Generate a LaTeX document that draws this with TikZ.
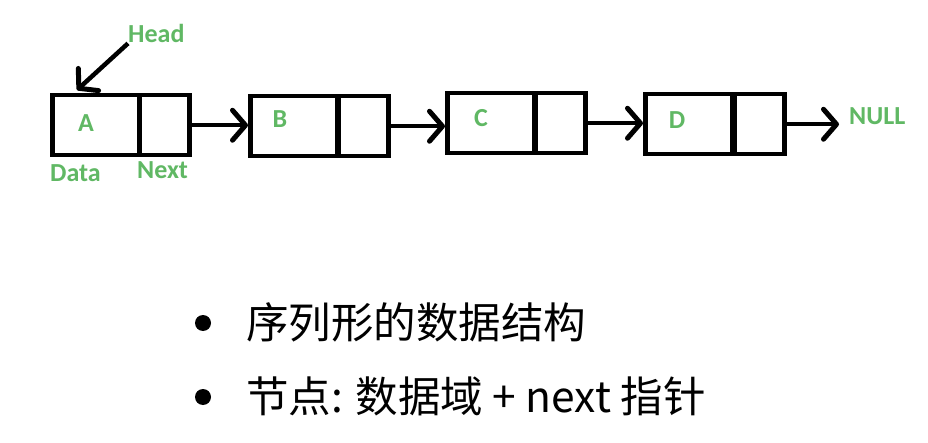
\documentclass[tikz,border=0pt]{standalone}
\usepackage{fontspec}
\setmainfont{Carlito}
\newfontfamily\cjk{Noto Sans CJK SC}
\usetikzlibrary{arrows.meta}
\definecolor{ggreen}{RGB}{96,184,100}
\tikzset{
  cell/.style={draw=black, line width=4.5pt, rectangle, inner sep=0pt, anchor=north west, minimum height=60pt},
  datacell/.style={cell, minimum width=87pt},
  nextcell/.style={cell, minimum width=50pt},
  lbl/.style={text=ggreen, font=\fontsize{26pt}{28pt}\selectfont\bfseries, inner sep=0pt},
  arr/.style={line width=4.5pt, -{Straight Barb[length=13pt,width=30pt,line width=5pt,round]}},
  bullettext/.style={font=\cjk\fontsize{42.5pt}{46pt}\selectfont, inner sep=0pt, anchor=base west},
  dot/.style={circle, fill=black, inner sep=0pt, minimum size=16pt},
}
\begin{document}
\begin{tikzpicture}[x=1pt,y=-1pt]
\useasboundingbox[fill=white] (0,0) rectangle (928,443);
% list cells
\node[datacell] (Ad) at (50,93) {};
\node[nextcell] (An) at (137,93) {};
\node[datacell] (Bd) at (248,94) {};
\node[nextcell] (Bn) at (336,94) {};
\node[datacell] (Cd) at (445,91) {};
\node[nextcell] (Cn) at (533,91) {};
\node[datacell] (Dd) at (643,92) {};
\node[nextcell] (Dn) at (732,92) {};
% labels
\node[lbl, anchor=base] (A) at (86,132) {A};
\node[lbl, anchor=base] (B) at (280,128) {B};
\node[lbl, anchor=base] (C) at (481,127) {C};
\node[lbl, anchor=base] (D) at (677,129) {D};
\node[lbl, anchor=base west] (data) at (50,182) {Data};
\node[lbl, anchor=base west] (next) at (137,179) {Next};
\node[lbl, anchor=base west] (null) at (849,125) {NULL};
\node[lbl, anchor=base west] (head) at (128,43) {Head};
\coordinate (headtip) at (77,90);
% connectors
\draw[arr] (An.east) -- (An.east -| Bd.west);
\draw[arr] (Bn.east) -- (Bn.east -| Cd.west);
\draw[arr] (Cn.east) -- (Cn.east -| Dd.west);
\draw[arr] (Dn.east) -- ([xshift=-10pt]Dn.east -| null.west);
\draw[arr] (head.south west) -- (headtip);
% bullets
\node[dot] (b1) at (203,323) {};
\node[dot] (b2) at (203,397) {};
\node[bullettext] (t1) at (246,338) {序列形的数据结构};
\node[bullettext] (t2) at (246,412) {节点: 数据域 + next 指针};
\end{tikzpicture}
\end{document}
